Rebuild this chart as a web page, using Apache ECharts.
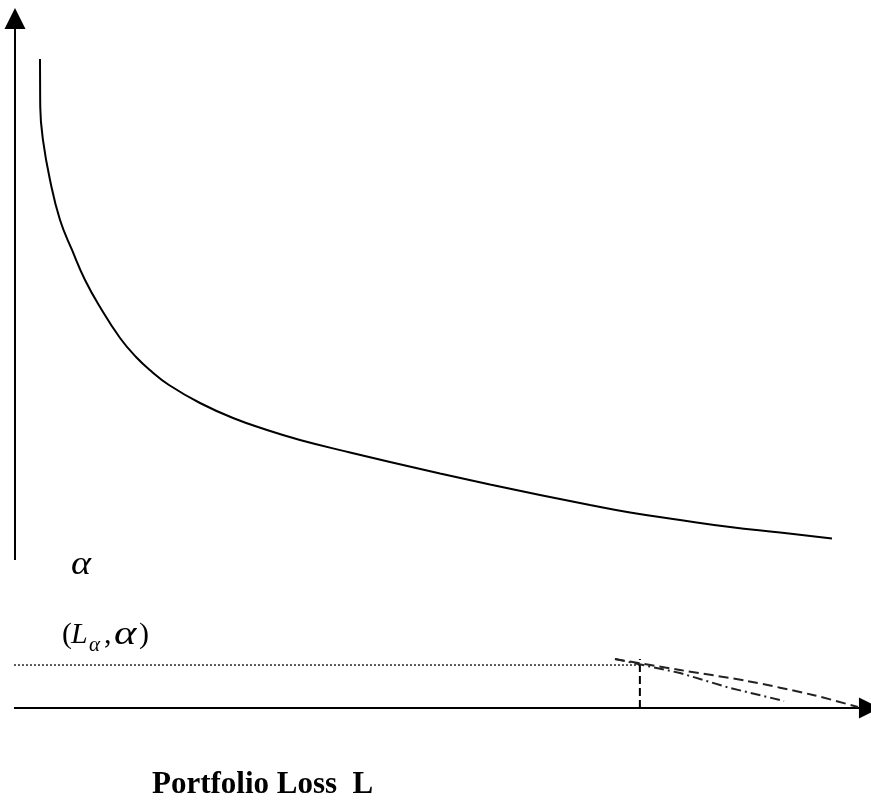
<!DOCTYPE html>
<html>
<head>
<meta charset="utf-8">
<style>html,body{margin:0;padding:0;background:#fff;}#c{width:871px;height:801px;}</style>
<script src="https://cdn.jsdelivr.net/npm/echarts@6/dist/echarts.min.js"></script>
</head>
<body>
<div id="c"></div>
<script>
// Data space: x = portfolio loss (0..100), y = value (0..100)
const curveX = [2.92, 2.95, 3.27, 4.09, 5.26, 6.66, 8.18, 9.93, 12.27, 14.14, 15.89, 17.99, 21.61, 25.47, 29.44, 33.29, 39.14, 43.81, 49.65, 55.49, 61.33, 67.17, 71.85, 77.69, 83.53, 89.37, 95.44];
const curveY = [92.71, 85.86, 81.14, 75.43, 69.71, 65.43, 61.14, 57.29, 52.86, 50.14, 48.14, 46.14, 43.57, 41.43, 39.71, 38.29, 36.50, 35.14, 33.50, 31.93, 30.43, 29.00, 27.93, 26.86, 25.86, 25.07, 24.21];
const dashX = [70.09, 77.69, 85.51, 93.22, 98.48];
const dashY = [7.0, 5.43, 3.86, 1.86, 0.14];
const dashDotX = [70.09, 77.69, 83.53, 89.84];
const dashDotY = [7.0, 5.0, 2.86, 1.0];
const alphaLevel = 6.14;     // level of (L_alpha, alpha)
const lossAlpha = 73.0;      // L_alpha
const yAxisSpan = [21.14, 98.5];
const xAxisSpan = [-0.12, 99.82];

const zip = (a, b) => a.map((v, i) => [v, b[i]]);
const serif = "'Liberation Serif','Times New Roman',serif";

const chart = echarts.init(document.getElementById('c'), null, {renderer: 'canvas'});
chart.setOption({
  animation: false,
  grid: {left: 15, top: 8, width: 856, height: 700},
  xAxis: {type: 'value', min: 0, max: 100, show: false},
  yAxis: {type: 'value', min: 0, max: 100, show: false},
  series: [
    {
      type: 'lines', coordinateSystem: 'cartesian2d', clip: false,
      symbol: ['none', 'triangle'], symbolSize: [20, 21],
      lineStyle: {color: '#000', width: 2, opacity: 1},
      data: [
        {coords: [[0, yAxisSpan[0]], [0, yAxisSpan[1]]]},
        {coords: [[xAxisSpan[0], 0], [xAxisSpan[1], 0]]}
      ]
    },
    {
      type: 'line', data: zip(curveX, curveY), smooth: 0.45, showSymbol: false, clip: false,
      lineStyle: {color: '#000', width: 2}
    },
    {
      type: 'line', data: [[xAxisSpan[0], alphaLevel], [lossAlpha, alphaLevel]], showSymbol: false, clip: false,
      lineStyle: {color: '#000', width: 1.3, type: [2, 2]}
    },
    {
      type: 'line', data: [[lossAlpha, 0], [lossAlpha, 7.0]], showSymbol: false, clip: false,
      lineStyle: {color: '#000', width: 2, type: [8, 4]}
    },
    {
      type: 'line', data: zip(dashX, dashY), smooth: 0.3, showSymbol: false, clip: false,
      lineStyle: {color: '#222', width: 2, type: [10, 5]}
    },
    {
      type: 'line', data: zip(dashDotX, dashDotY), showSymbol: false, clip: false,
      lineStyle: {color: '#222', width: 2, type: [10, 4, 2, 4]}
    }
  ],
  graphic: [
    {type: 'text', x: 71, y: 565, scaleX: 1.12, style: {text: 'α', font: 'italic 34px ' + serif, fill: '#000', verticalAlign: 'middle'}},
    {type: 'text', x: 62, y: 635, style: {text: '(', font: '30px ' + serif, fill: '#000', verticalAlign: 'middle'}},
    {type: 'text', x: 71, y: 635, style: {text: 'L', font: 'italic 30px ' + serif, fill: '#000', verticalAlign: 'middle'}},
    {type: 'text', x: 89, y: 645, style: {text: 'α', font: 'italic 21px ' + serif, fill: '#000', verticalAlign: 'middle'}},
    {type: 'text', x: 104, y: 635, style: {text: ',', font: '30px ' + serif, fill: '#000', verticalAlign: 'middle'}},
    {type: 'text', x: 114, y: 635, scaleX: 1.25, style: {text: 'α', font: 'italic 34px ' + serif, fill: '#000', verticalAlign: 'middle'}},
    {type: 'text', x: 139, y: 635, style: {text: ')', font: '30px ' + serif, fill: '#000', verticalAlign: 'middle'}},
    {type: 'text', x: 152, y: 785, style: {text: 'Portfolio Loss  L', font: 'bold 31px ' + serif, fill: '#000', verticalAlign: 'middle'}}
  ]
});
</script>
</body>
</html>
